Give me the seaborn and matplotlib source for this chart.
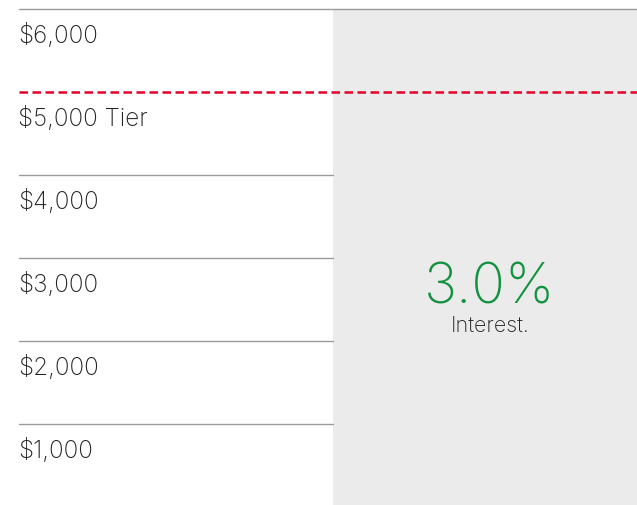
import matplotlib
matplotlib.use("Agg")
import matplotlib.pyplot as plt
import seaborn as sns
import pandas as pd

# Data
tier_values = [6000, 5000, 4000, 3000, 2000, 1000]
tier_labels = ["$6,000", "$5,000 Tier", "$4,000", "$3,000", "$2,000", "$1,000"]
highlight_tier = 5000
rate_text = "3.0%"
rate_caption = "Interest."

sns.set_theme(style="white")
plt.rcParams["font.family"] = ["Inter", "DejaVu Sans"]

fig = plt.figure(figsize=(6.37, 5.05), dpi=100)
ax = fig.add_axes([0, 0, 1, 1])
ax.set_xlim(0, 637)
ax.set_ylim(6000 - (505 - 9) / 83 * 1000, 6000 + 9 / 83 * 1000)
ax.axis("off")

x_left, x_split, x_right = 19, 333, 637
top = max(tier_values)
bottom_val = ax.get_ylim()[0]

# gray panel
ax.fill_between([x_split, x_right], bottom_val, top, color="#ebebeb", lw=0, zorder=0)

df = pd.DataFrame({"tier": tier_values, "label": tier_labels})
for v, lab in zip(df["tier"], df["label"]):
    if v == highlight_tier:
        ax.plot([x_left, x_right], [v, v], color="#e4002b", lw=1.8,
                dashes=(3.4, 1.8), zorder=3)
    elif v == top:
        ax.plot([x_left, x_right], [v, v], color="#9a9a9a", lw=1.0, zorder=2)
    else:
        ax.plot([x_left, x_split], [v, v], color="#9a9a9a", lw=1.0, zorder=2)
    ax.text(x_left - 1, v - 410, lab, ha="left", va="baseline", fontsize=17.5,
            color="#222222", fontweight="light")

mid_val = tier_values[3]
ax.text(490, mid_val - (303 - 258) / 83 * 1000, rate_text, ha="center",
        va="baseline", fontsize=40, color="#13923f", fontweight="light")
ax.text(490, mid_val - (332 - 258) / 83 * 1000, rate_caption, ha="center",
        va="baseline", fontsize=15.5, color="#222222", fontweight="light")

fig.savefig("out.png", dpi=100)
